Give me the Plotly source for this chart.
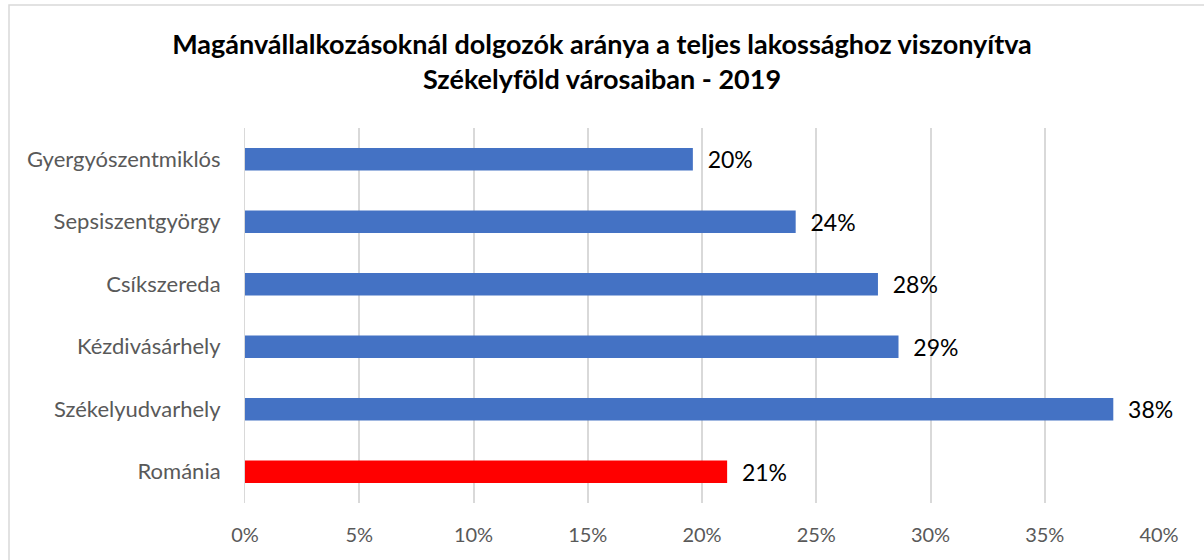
import plotly.graph_objects as go

categories = ["Gyergyószentmiklós", "Sepsiszentgyörgy", "Csíkszereda",
              "Kézdivásárhely", "Székelyudvarhely", "Románia"]
values = [0.196, 0.241, 0.277, 0.286, 0.380, 0.211]
labels = ["20%", "24%", "28%", "29%", "38%", "21%"]
colors = ["#4472C4", "#4472C4", "#4472C4", "#4472C4", "#4472C4", "#FF0000"]
tick_vals = [0, 0.05, 0.10, 0.15, 0.20, 0.25, 0.30, 0.35, 0.40]
tick_text = ["0%", "5%", "10%", "15%", "20%", "25%", "30%", "35%", "40%"]

FONT = "Lato, 'Open Sans', sans-serif"
NB = "\u00a0"

fig = go.Figure(go.Bar(
    y=categories, x=values, orientation="h",
    marker=dict(color=colors, line=dict(width=0)),
    text=labels, texttemplate=NB * 2 + "%{text}", textposition="outside",
    constraintext="none",
    textfont=dict(family=FONT, size=23, color="#000000"),
    cliponaxis=False,
))

fig.update_layout(
    width=1204, height=560,
    margin=dict(l=245, r=45, t=128, b=57),
    paper_bgcolor="white", plot_bgcolor="white",
    bargap=0.64,
    showlegend=False,
    title=dict(
        text="<b>Magánvállalkozásoknál dolgozók aránya a teljes lakossághoz viszonyítva<br>Székelyföld városaiban - 2019</b>",
        x=0.5, xanchor="center", xref="container",
        y=1 - 54 / 560, yanchor="middle", yref="container",
        font=dict(family=FONT, size=27, color="#000000"),
    ),
    xaxis=dict(
        range=[0, 0.40], tickvals=tick_vals, ticktext=tick_text,
        showgrid=True, gridcolor="#D9D9D9", gridwidth=2,
        zeroline=False, showline=False, ticks="",
        tickfont=dict(family=FONT, size=20, color="#595959"),
        ticklabelstandoff=18,
    ),
    yaxis=dict(
        categoryorder="array", categoryarray=categories[::-1],
        autorange=True, showgrid=False, zeroline=False,
        showline=True, linecolor="#D9D9D9", linewidth=1, ticks="",
        tickfont=dict(family=FONT, size=22, color="#595959"),
        ticklabelstandoff=19,
    ),
    shapes=[dict(
        type="rect", xref="paper", yref="paper",
        x0=(9 - 245) / 914, x1=1.2, y0=-0.3, y1=(503 - 5) / 375,
        line=dict(color="#D9D9D9", width=1.5), fillcolor="rgba(0,0,0,0)",
        layer="below",
    )],
)

fig.write_html(
    "out.html",
    config={"displayModeBar": False},
    post_script="document.body.style.margin='0';document.body.style.overflow='hidden';",
)
